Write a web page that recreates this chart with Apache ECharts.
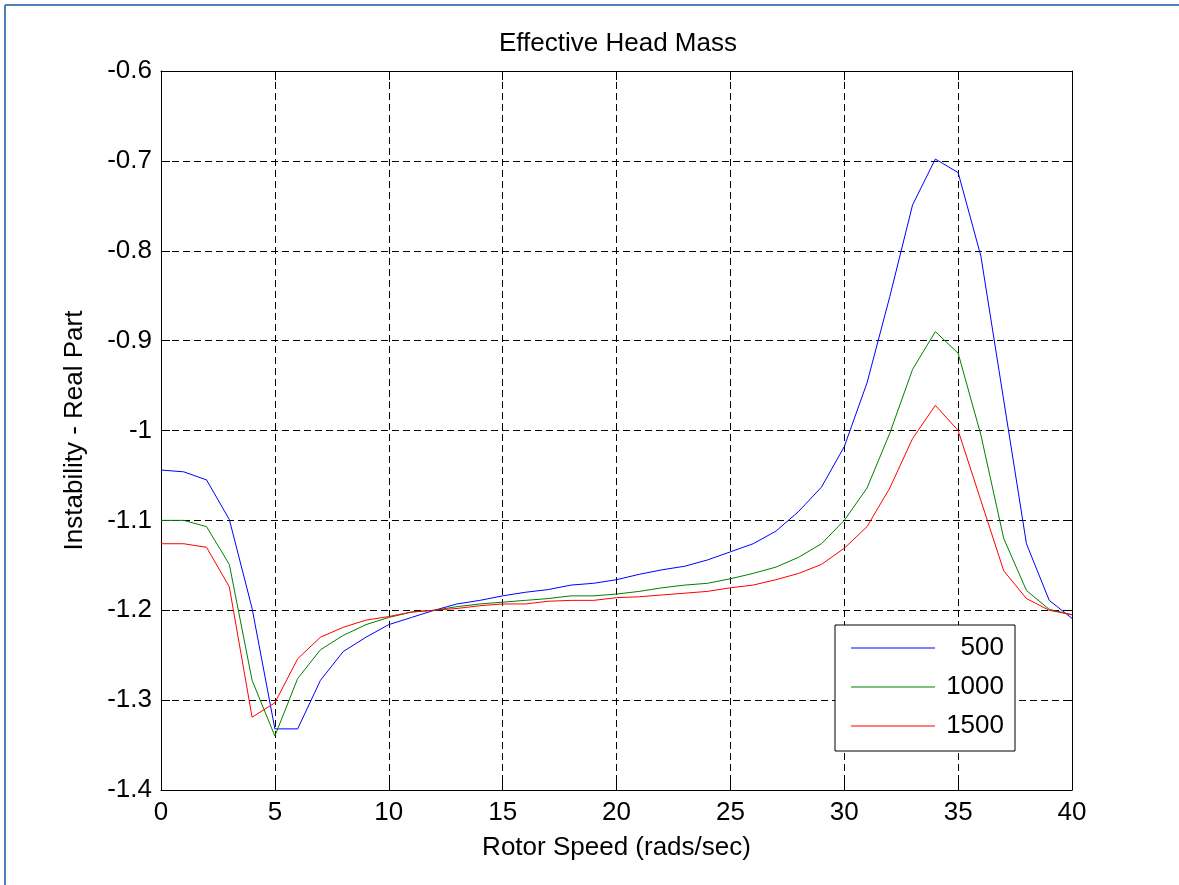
<!DOCTYPE html>
<html lang="en">
<head>
    <meta charset="UTF-8">
    <title>Effective Head Mass</title>
    <script src="https://cdn.jsdelivr.net/npm/echarts@6/dist/echarts.min.js"></script>
    <style>
        body { margin: 0; background: #fff; }
        #main { width: 1179px; height: 885px; }
    </style>
</head>
<body>
<div id="main"></div>
<script>
    // rotor speed (rads/sec)
    var speeds = [0, 1, 2, 3, 4, 5, 6, 7, 8, 9, 10, 11, 12, 13, 14, 15, 16, 17, 18, 19, 20,
        21, 22, 23, 24, 25, 26, 27, 28, 29, 30, 31, 32, 33, 34, 35, 36, 37, 38, 39, 40];

    var mass500 = [-1.044, -1.046, -1.055, -1.099, -1.198, -1.332, -1.332, -1.278, -1.246, -1.230,
        -1.216, -1.208, -1.200, -1.193, -1.189, -1.184, -1.180, -1.177, -1.172, -1.170,
        -1.166, -1.160, -1.155, -1.151, -1.144, -1.135, -1.126, -1.112, -1.090, -1.063,
        -1.018, -0.947, -0.851, -0.749, -0.698, -0.713, -0.806, -0.966, -1.126, -1.189, -1.209];

    var mass1000 = [-1.100, -1.100, -1.107, -1.149, -1.278, -1.340, -1.276, -1.244, -1.228, -1.216,
        -1.208, -1.202, -1.200, -1.196, -1.193, -1.191, -1.189, -1.187, -1.184, -1.184,
        -1.182, -1.179, -1.175, -1.172, -1.170, -1.165, -1.159, -1.152, -1.141, -1.126,
        -1.100, -1.064, -1.003, -0.932, -0.890, -0.914, -1.005, -1.120, -1.178, -1.199, -1.205];

    var mass1500 = [-1.126, -1.126, -1.130, -1.174, -1.319, -1.303, -1.254, -1.230, -1.219, -1.211,
        -1.207, -1.202, -1.200, -1.198, -1.195, -1.193, -1.193, -1.190, -1.189, -1.189,
        -1.186, -1.185, -1.183, -1.181, -1.179, -1.175, -1.172, -1.166, -1.159, -1.149,
        -1.131, -1.107, -1.064, -1.009, -0.972, -1.000, -1.078, -1.156, -1.187, -1.200, -1.205];

    var seriesNames = ['500', '1000', '1500'];
    var seriesColors = ['#0000ff', '#008000', '#ff0000'];
    var seriesData = [mass500, mass1000, mass1500];

    var font = 'Liberation Sans, Arial, sans-serif';

    function pairs(ys) {
        var out = [];
        for (var i in speeds) {
            out.push([speeds[i], ys[i]]);
        }
        return out;
    }

    var series = [];
    for (var k = 0; k < seriesNames.length; k++) {
        series.push({
            name: seriesNames[k],
            type: 'line',
            symbol: 'none',
            animation: false,
            data: pairs(seriesData[k]),
            lineStyle: { color: seriesColors[k], width: 1 },
            itemStyle: { color: seriesColors[k] }
        });
    }

    var dash = [7, 4];

    var option = {
        backgroundColor: '#fff',
        animation: false,
        title: {
            text: 'Effective Head Mass',
            left: 613,
            top: 26,
            textAlign: 'center',
            textStyle: { fontFamily: font, fontSize: 26, fontWeight: 'normal', color: '#000', lineHeight: 26 }
        },
        grid: { left: 161, right: 107, top: 71, bottom: 95 },
        legend: {
            orient: 'vertical',
            left: 835,
            top: 625,
            padding: [10, 11, 12, 16],
            backgroundColor: '#fff',
            borderColor: '#000',
            borderWidth: 1,
            borderRadius: 0,
            icon: 'rect',
            itemWidth: 84,
            itemHeight: 1,
            itemGap: 13,
            data: seriesNames,
            formatter: function (name) { return '{a|' + name + '}'; },
            textStyle: {
                fontFamily: font, fontSize: 26, color: '#000',
                rich: { a: { width: 64, align: 'right', fontFamily: font, fontSize: 26, lineHeight: 26, color: '#000' } }
            }
        },
        graphic: [
            { type: 'line', shape: { x1: 5, y1: 5, x2: 5, y2: 885 }, style: { stroke: '#4f81bd', lineWidth: 2 } },
            { type: 'line', shape: { x1: 5, y1: 5, x2: 1179, y2: 5 }, style: { stroke: '#4f81bd', lineWidth: 2 } }
        ],
        xAxis: [
            {
                type: 'value', min: 0, max: 40, interval: 5,
                name: 'Rotor Speed (rads/sec)',
                nameLocation: 'middle',
                nameGap: 45,
                nameTextStyle: { fontFamily: font, fontSize: 26, color: '#000', lineHeight: 26 },
                axisLine: { show: true, onZero: false, lineStyle: { color: '#000', width: 1 } },
                axisTick: { show: true, inside: true, length: 9, lineStyle: { color: '#000' } },
                axisLabel: { margin: 10, fontFamily: font, fontSize: 26, color: '#000' },
                splitLine: { show: true, lineStyle: { color: '#000', type: dash, width: 1 } }
            },
            {
                type: 'value', min: 0, max: 40, interval: 5, position: 'top',
                axisLine: { show: true, onZero: false, lineStyle: { color: '#000', width: 1 } },
                axisTick: { show: true, inside: true, length: 9, lineStyle: { color: '#000' } },
                axisLabel: { show: false },
                splitLine: { show: false }
            }
        ],
        yAxis: [
            {
                type: 'value', min: -1.4, max: -0.6, interval: 0.1,
                name: 'Instability - Real Part',
                nameLocation: 'middle',
                nameGap: 73,
                nameTextStyle: { fontFamily: font, fontSize: 26, color: '#000', lineHeight: 26 },
                axisLine: { show: true, onZero: false, lineStyle: { color: '#000', width: 1 } },
                axisTick: { show: true, inside: true, length: 9, lineStyle: { color: '#000' } },
                axisLabel: {
                    margin: 9, fontFamily: font, fontSize: 26, color: '#000',
                    formatter: function (v) { return String(Math.round(v * 10) / 10); }
                },
                splitLine: { show: true, lineStyle: { color: '#000', type: dash, width: 1 } }
            },
            {
                type: 'value', min: -1.4, max: -0.6, interval: 0.1, position: 'right',
                axisLine: { show: true, onZero: false, lineStyle: { color: '#000', width: 1 } },
                axisTick: { show: true, inside: true, length: 9, lineStyle: { color: '#000' } },
                axisLabel: { show: false },
                splitLine: { show: false }
            }
        ],
        series: series
    };

    echarts.init(document.getElementById('main'), null, { renderer: 'canvas' }).setOption(option);
</script>
</body>
</html>
